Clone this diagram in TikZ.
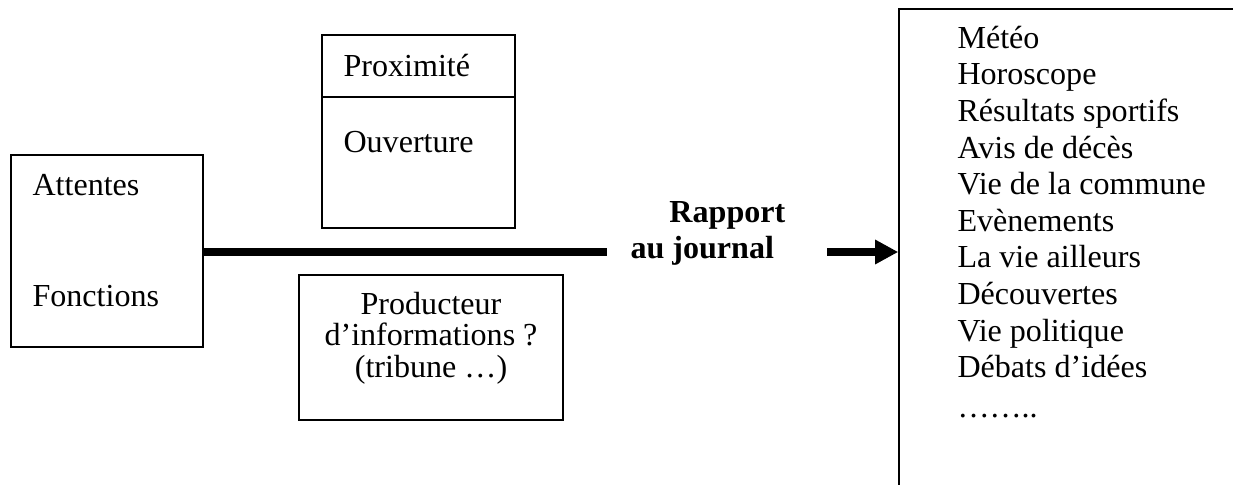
\documentclass[tikz,border=0pt]{standalone}
\usepackage{fontspec}
\setmainfont{Liberation Serif}
\usetikzlibrary{arrows.meta,fit}

\tikzset{
  boite/.style={draw, line width=0.6pt, inner sep=0pt},
  texte/.style={inner sep=0pt, font=\fontsize{12.35}{14.1}\selectfont},
  trait/.style={line width=3.1pt},
}

\begin{document}
\begin{tikzpicture}[x=0.385pt,y=0.385pt,yscale=-1,xscale=1]
\clip (0,0) rectangle (1233,484);
%Shape: Rectangle
\node [boite, fit={(11,155) (203,347)}] (gauche) {};
%Shape: Rectangle
\node [boite, fit={(322,35) (515,228)}] (haut) {};
\coordinate (sep) at (0,97);
\draw [line width=0.6pt] (haut.west |- sep) -- (haut.east |- sep) ;
%Shape: Rectangle
\node [boite, fit={(299,275) (563,420)}] (bas) {};
%Shape: Rectangle
\node [boite, fit={(899,9) (1300,560)}] (liste) {};
%Straight Lines
\coordinate (fin) at (607,252);
\draw [trait] (gauche.east |- fin) -- (fin) ;
%Straight Lines
\coordinate (fleche) at (827,252);
\draw [trait, -{Triangle[length=8.9pt,width=8.9pt]}] (fleche) -- (fleche -| liste.west) ;
% Text Node
\node [texte, anchor=base west] (attentes) at (32,195) {Attentes};
% Text Node
\node [texte, anchor=base west] (fonctions) at (32,306) {Fonctions};
% Text Node
\node [texte, anchor=base west] (proximite) at (343,77) {Proximité};
% Text Node
\node [texte, anchor=base west] (ouverture) at (343,152) {Ouverture};
% Text Node (base = last line)
\node [texte, anchor=base, align=center, font=\fontsize{12.35}{12}\selectfont] (producteur) at (431,377) {Producteur\\d’informations ? \\(tribune …)};
% Text Node
\node [texte, anchor=base west, align=left, font=\fontsize{12.35}{13.5}\selectfont\bfseries] (rapport) at (630,258) {\hspace*{15pt}Rapport\\au journal};
% Text Node
\node [texte, anchor=base west, align=left] (rubriques) at (957,417) {Météo\\Horoscope\\Résultats sportifs\\Avis de décès\\Vie de la commune\\Evènements\\La vie ailleurs\\Découvertes\\Vie politique\\Débats d’idées\\[1pt]……..};
\end{tikzpicture}
\end{document}
